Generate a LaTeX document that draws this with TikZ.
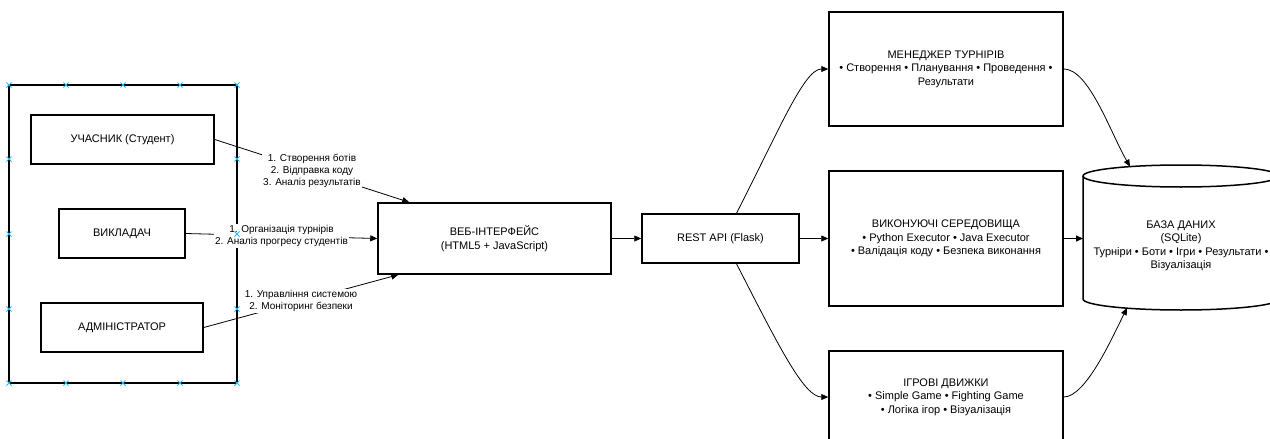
\documentclass[tikz,border=0pt]{standalone}
\usepackage{fontspec}
\setmainfont{Liberation Sans}
\usetikzlibrary{arrows.meta}
\definecolor{handleblue}{HTML}{29B6F2}
\tikzset{
  box/.style={draw, line width=1.5pt, align=center, inner sep=0pt, font=\fontsize{11}{13.5}\selectfont},
  lbl/.style={fill=white, inner sep=1pt, align=center, font=\fontsize{10}{12}\selectfont},
  arr/.style={line width=0.8pt, -{Triangle[length=7pt,width=6pt]}},
  handle/.style={draw=handleblue, line width=0.8pt}
}
\begin{document}
\begin{tikzpicture}[x=1pt,y=-1pt]
   \fill[white] (0,0) rectangle (1270,439);
   \useasboundingbox (0,0) rectangle (1270,439);
   % users
   \node[draw, line width=1.5pt, minimum width=228pt, minimum height=298pt] (users) at (123,234) {};
   \node[box, minimum width=183pt, minimum height=49pt] (stud) at (122.5,139.5) {УЧАСНИК (Студент)};
   \node[box, minimum width=126pt, minimum height=49pt] (teach) at (122,233.5) {ВИКЛАДАЧ};
   \node[box, minimum width=162pt, minimum height=49pt] (admin) at (122,327.5) {АДМІНІСТРАТОР};
   % web + api
   \node[box, minimum width=233pt, minimum height=71pt] (web) at (494.5,238.5) {ВЕБ-ІНТЕРФЕЙС\\(HTML5 + JavaScript)};
   \node[box, minimum width=157pt, minimum height=49pt] (api) at (720.5,238.5) {REST API (Flask)};
   % services
   \node[box, minimum width=234pt, minimum height=114pt] (mgr) at (946,69) {МЕНЕДЖЕР ТУРНІРІВ\\• Створення • Планування • Проведення •\\Результати};
   \node[box, minimum width=234pt, minimum height=135pt] (exec) at (946,238.5) {ВИКОНУЮЧІ СЕРЕДОВИЩА\\• Python Executor • Java Executor\\• Валідація коду • Безпека виконання};
   \node[box, minimum width=234pt, minimum height=92pt] (game) at (946,397) {ІГРОВІ ДВИЖКИ\\• Simple Game • Fighting Game\\• Логіка ігор • Візуалізація};
   % database
   \draw[line width=1.5pt] (1083,176) -- (1083,299) arc[start angle=180, end angle=0, x radius=98, y radius=11] -- (1279,176);
   \draw[line width=1.5pt] (1181,176) ellipse[x radius=98, y radius=11];
   \node[align=center, inner sep=0pt, font=\fontsize{11}{13.5}\selectfont] (db) at (1181,246) {БАЗА ДАНИХ\\(SQLite)\\Турніри • Боти • Ігри • Результати •\\Візуалізація};
   \coordinate (dbtop) at (1130,166.6);
   \coordinate (dbleft) at (1083,238.5);
   \coordinate (dbbot) at (1127,308);
   % edges
   \draw[arr] (stud.east) -- node[lbl]{1. Створення ботів\\2. Відправка коду\\3. Аналіз результатів} ([xshift=32pt]web.north west);
   \draw[arr] (teach.east) -- node[lbl]{1. Організація турнірів\\2. Аналіз прогресу студентів} (web.west);
   \draw[arr] (admin.east) -- node[lbl]{1. Управління системою\\2. Моніторинг безпеки} ([xshift=21pt]web.south west);
   \draw[arr] (web) -- (api);
   \draw[arr] (api) -- (exec);
   \draw[arr] ([xshift=16pt]api.north) .. controls +(43,-84) and +(-24,0) .. (mgr.west);
   \draw[arr] ([xshift=16pt]api.south) .. controls +(43,84) and +(-24,0) .. (game.west);
   \draw[arr] (mgr.east) .. controls +(25,0) and +(-20,-35) .. (dbtop);
   \draw[arr] (exec.east) -- (dbleft);
   \draw[arr] (game.east) .. controls +(22,0) and +(-15,30) .. (dbbot);
   % handles
   \foreach \x in {9,66,123,180,237} {
     \draw[handle] (\x,85)+(-2.5,-2.5)--+(2.5,2.5) +(-2.5,2.5)--+(2.5,-2.5);
     \draw[handle] (\x,383)+(-2.5,-2.5)--+(2.5,2.5) +(-2.5,2.5)--+(2.5,-2.5);
   }
   \foreach \y in {159,234,309} {
     \draw[handle] (9,\y)+(-2.5,-2.5)--+(2.5,2.5) +(-2.5,2.5)--+(2.5,-2.5);
     \draw[handle] (237,\y)+(-2.5,-2.5)--+(2.5,2.5) +(-2.5,2.5)--+(2.5,-2.5);
   }
\end{tikzpicture}
\end{document}
